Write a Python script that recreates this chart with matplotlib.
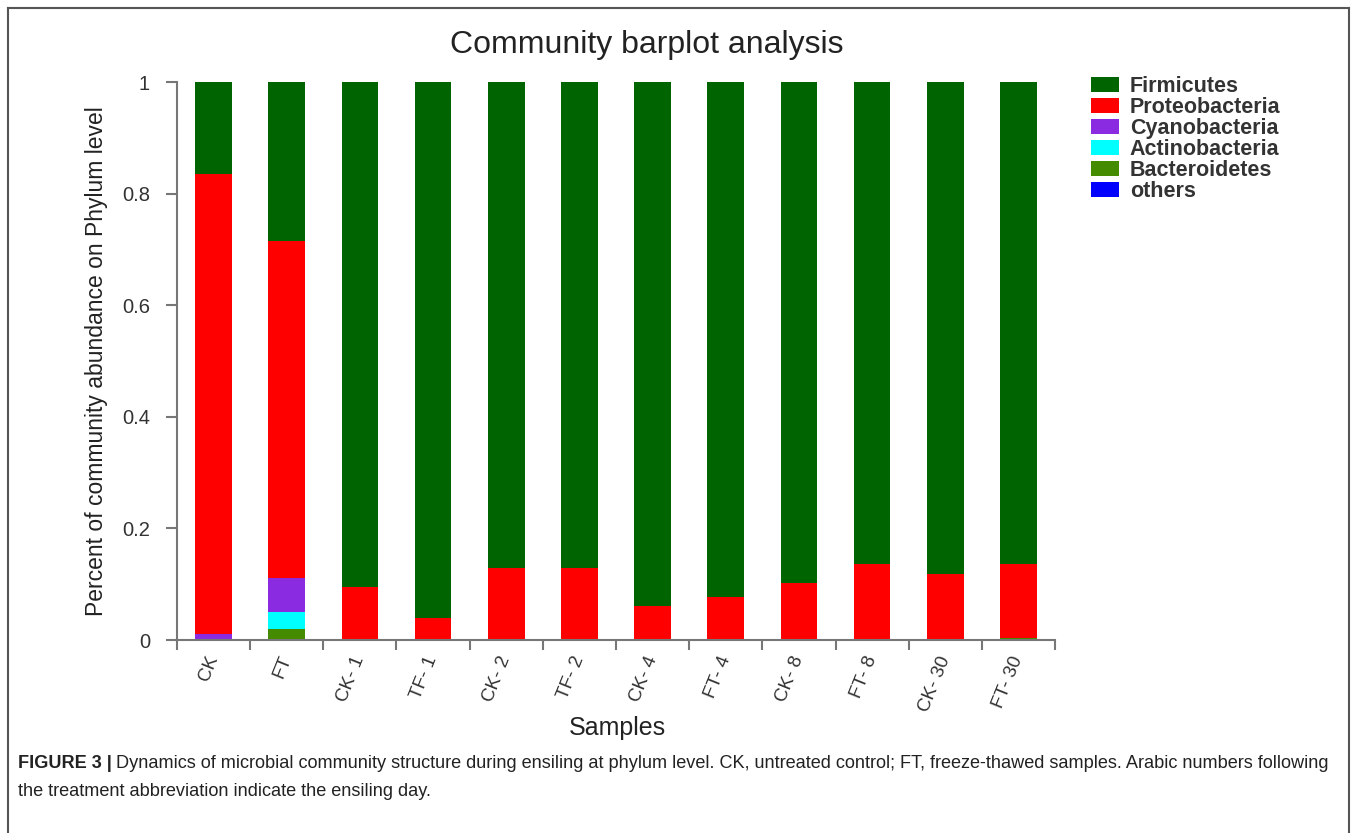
import matplotlib
matplotlib.use("Agg")
import matplotlib.pyplot as plt
from matplotlib.patches import Patch
from matplotlib.lines import Line2D
import numpy as np

plt.rcParams['font.family'] = ['Liberation Sans', 'DejaVu Sans']

samples = ["CK", "FT", "CK- 1", "TF- 1", "CK- 2", "TF- 2", "CK- 4", "FT- 4",
           "CK- 8", "FT- 8", "CK- 30", "FT- 30"]
phyla = ["Firmicutes", "Proteobacteria", "Cyanobacteria", "Actinobacteria",
         "Bacteroidetes", "others"]
firmicutes     = [0.165, 0.285, 0.905, 0.961, 0.871, 0.871, 0.939, 0.923, 0.898, 0.864, 0.882, 0.864]
proteobacteria = [0.825, 0.604, 0.095, 0.039, 0.129, 0.129, 0.061, 0.077, 0.102, 0.136, 0.118, 0.132]
cyanobacteria  = [0.010, 0.061, 0, 0, 0, 0, 0, 0, 0, 0, 0, 0]
actinobacteria = [0, 0.030, 0, 0, 0, 0, 0, 0, 0, 0, 0, 0]
bacteroidetes  = [0, 0.020, 0, 0, 0, 0, 0, 0, 0, 0, 0, 0.004]
others         = [0, 0, 0, 0, 0, 0, 0, 0, 0, 0, 0, 0]
colors = ["#006400", "#FF0000", "#8A2BE2", "#00FFFF", "#458B00", "#0000FF"]

series = [firmicutes, proteobacteria, cyanobacteria, actinobacteria, bacteroidetes, others]

W, H = 1357, 833
fig = plt.figure(figsize=(W / 100, H / 100), dpi=100)
ax = fig.add_axes([177 / W, 1 - 640 / H, (1055 - 177) / W, (640 - 82) / H])

x = np.arange(len(samples))
bottom = np.zeros(len(samples))
# stack from bottom: others, Bacteroidetes, Actinobacteria, Cyanobacteria, Proteobacteria, Firmicutes
for vals, col in list(zip(series, colors))[::-1]:
    v = np.array(vals, dtype=float)
    ax.bar(x, v, bottom=bottom, width=0.5, color=col, edgecolor='none')
    bottom += v

ax.set_xlim(-0.5, len(samples) - 0.5)
ax.set_ylim(0, 1)
axcol = "#777777"
for s in ['top', 'right']:
    ax.spines[s].set_visible(False)
for s in ['left', 'bottom']:
    ax.spines[s].set_color(axcol)
    ax.spines[s].set_linewidth(1.5)

ax.set_yticks([0, 0.2, 0.4, 0.6, 0.8, 1.0])
ax.set_yticklabels(["0", "0.2", "0.4", "0.6", "0.8", "1"])
ax.tick_params(axis='y', direction='out', length=8, width=1.5, color=axcol,
               labelsize=14.5, labelcolor="#333333", pad=11.5)

ax.set_xticks(np.arange(len(samples) + 1) - 0.5)
ax.set_xticklabels([])
ax.tick_params(axis='x', which='major', direction='out', length=7, width=1.5, color=axcol)
ax.set_xticks(x, minor=True)
ax.set_xticklabels(samples, minor=True, rotation=68, ha='right', va='center',
                   rotation_mode='anchor', fontsize=13.5, color="#333333")
ax.tick_params(axis='x', which='minor', length=0, pad=12)

ax.set_ylabel("Percent of community abundance on Phylum level", fontsize=16.5,
              color="#222222", labelpad=10)
fig.text(617 / W, 1 - 728 / H, "Samples", fontsize=18, color="#222222",
         ha='center', va='center')
fig.text(647 / W, 1 - 45 / H, "Community barplot analysis", fontsize=23,
         color="#222222", ha='center', va='center')

handles = [Patch(facecolor=c, edgecolor='none') for c in colors]
leg = fig.legend(handles, phyla, loc='upper left',
                 bbox_to_anchor=(1091 / W, 1 - 76 / H), frameon=False,
                 borderaxespad=0, borderpad=0, handlelength=1.3,
                 handleheight=0.75, labelspacing=0.0, handletextpad=0.5,
                 prop={'weight': 'bold', 'size': 15.5})
for t in leg.get_texts():
    t.set_color("#333333")

# frame
fc = "#555555"
fig.add_artist(Line2D([8 / W, 8 / W], [0, 1 - 8 / H], transform=fig.transFigure, color=fc, lw=1.5))
fig.add_artist(Line2D([8 / W, 1349 / W], [1 - 8 / H, 1 - 8 / H], transform=fig.transFigure, color=fc, lw=1.5))
fig.add_artist(Line2D([1349 / W, 1349 / W], [0, 1 - 8 / H], transform=fig.transFigure, color=fc, lw=1.5))

# caption
fig.canvas.draw()
r = fig.canvas.get_renderer()
t1 = fig.text(18 / W, 1 - 763 / H, "FIGURE 3 |", fontsize=13.1, weight='bold',
              color="#222222", ha='left', va='center')
bb = t1.get_window_extent(renderer=r)
fig.text((bb.x1 + 4) / W, 1 - 763 / H,
         "Dynamics of microbial community structure during ensiling at phylum level. CK, untreated control; FT, freeze-thawed samples. Arabic numbers following",
         fontsize=13.1, color="#222222", ha='left', va='center')
fig.text(18 / W, 1 - 791 / H, "the treatment abbreviation indicate the ensiling day.",
         fontsize=13.1, color="#222222", ha='left', va='center')

fig.savefig("out.png", dpi=100)
